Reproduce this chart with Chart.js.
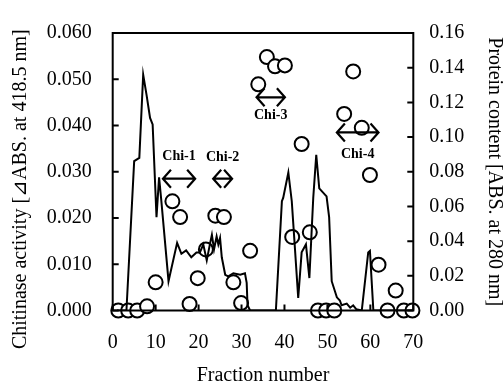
<!DOCTYPE html>
<html>
<head>
<meta charset="utf-8">
<script src="https://cdn.jsdelivr.net/npm/chart.js@4"></script>
<style>
  html, body { margin: 0; padding: 0; background: #fff; }
</style>
</head>
<body>
<canvas id="chart" width="504" height="385"></canvas>
<script>
// ── data ──
// circles: chitinase activity (left axis)
const circleFraction = [1.3, 3.6, 5.7, 8.0, 10.0, 13.9, 15.7, 17.9, 19.8, 21.7, 23.9, 25.9, 28.1, 29.9, 32.0, 33.9, 35.9,
                        37.8, 40.1, 41.8, 44.0, 45.9, 47.8, 49.7, 51.6, 53.9, 56.0, 58.0, 59.9, 61.9, 64.0, 65.9, 67.8, 69.8];
const chitinase      = [0, 0, 0, 0.0009, 0.0061, 0.0236, 0.0202, 0.0014, 0.0070, 0.0132, 0.0205, 0.0202, 0.0061, 0.0016, 0.0129, 0.0489, 0.0548,
                        0.0528, 0.0530, 0.0159, 0.0360, 0.0169, 0, 0, 0, 0.0425, 0.0517, 0.0395, 0.0293, 0.0099, 0, 0.0043, 0, 0];

// solid line: protein content (right axis)
const lineFraction = [1, 3.2, 5.0, 6.2, 7.1, 7.9, 8.7, 9.3, 10.2, 10.8, 11.3, 13.0, 15.0, 16.0, 17.1, 18.3, 19.5, 20.3, 21.1, 21.9,
                      22.7, 23.1, 23.6, 24.2, 24.6, 25.0, 25.4, 26.2, 26.9, 28.1, 29.7, 30.8, 31.2, 31.4, 32.0, 38.0, 39.4, 39.7, 40.9, 41.7,
                      42.3, 43.2, 44.0, 45.0, 45.8, 46.7, 47.4, 48.1, 49.8, 50.4, 51.0, 52.2, 52.9, 53.3, 54.5, 55.3, 56.0, 56.7, 58.0, 59.5,
                      59.9, 60.7, 70];
const protein      = [0, 0, 0.0861, 0.0880, 0.1359, 0.1240, 0.1110, 0.1073, 0.0538, 0.0768, 0.0639, 0.0169, 0.0390, 0.0327, 0.0346, 0.0307, 0.0335, 0.0335, 0.0381, 0.0289,
                      0.0390, 0.0436, 0.0353, 0.0427, 0.0381, 0.0418, 0.0307, 0.0206, 0.0197, 0.0215, 0.0206, 0.0215, 0.0159, 0.0030, 0, 0, 0.0630, 0.0649, 0.0796, 0.0630,
                      0.0409, 0.0072, 0.0335, 0.0381, 0.0187, 0.0649, 0.0898, 0.0704, 0.0658, 0.0538, 0.0169, 0.0076, 0.0058, 0.0030, 0.0040, 0.0016, 0.0030, 0.0008, 0, 0.0335,
                      0.0344, 0, 0];

// Chi-n pooled ranges (fraction from/to, left-axis level of arrow and label)
const chiNames     = ['Chi-1', 'Chi-2', 'Chi-3', 'Chi-4'];
const chiFrom      = [11.7, 23.4, 33.5, 52.2];
const chiTo        = [19.2, 27.8, 40.1, 61.9];
const chiLevel     = [0.0285, 0.0285, 0.0461, 0.0385];
const chiTextLevel = [0.0334, 0.0332, 0.0422, 0.0337];

// tick labels
const xTickLabels  = ['0', '10', '20', '30', '40', '50', '60', '70'];
const yTickLabels  = ['0.000', '0.010', '0.020', '0.030', '0.040', '0.050', '0.060'];
const y1TickLabels = ['0.00', '0.02', '0.04', '0.06', '0.08', '0.10', '0.12', '0.14', '0.16'];

const SERIF = "'Liberation Serif', 'Times New Roman', serif";
const tickFont  = { family: SERIF, size: 20 };
const titleFont = { family: SERIF, size: 20, lineHeight: 1 };

// frame box + inward tick marks
const frame = {
  id: 'frame',
  afterDatasetsDraw(chart) {
    const { ctx, chartArea: a, scales } = chart;
    ctx.save();
    ctx.strokeStyle = '#000';
    ctx.lineWidth = 2;
    ctx.strokeRect(a.left, a.top, a.right - a.left, a.bottom - a.top);
    ctx.beginPath();
    scales.x.ticks.forEach((t, i) => {
      const px = scales.x.getPixelForTick(i);
      ctx.moveTo(px, a.bottom); ctx.lineTo(px, a.bottom - 6);
    });
    scales.y.ticks.forEach((t, i) => {
      const py = scales.y.getPixelForTick(i);
      ctx.moveTo(a.left, py); ctx.lineTo(a.left + 6, py);
    });
    scales.y1.ticks.forEach((t, i) => {
      const py = scales.y1.getPixelForTick(i);
      ctx.moveTo(a.right, py); ctx.lineTo(a.right - 6, py);
    });
    ctx.stroke();
    ctx.restore();
  },
};

// double-headed arrows with Chi labels
const chiMarks = {
  id: 'chiMarks',
  afterDatasetsDraw(chart) {
    const { ctx, scales: { x, y } } = chart;
    ctx.save();
    ctx.strokeStyle = '#000';
    ctx.fillStyle = '#000';
    ctx.lineWidth = 2.2;
    ctx.font = "bold 14px " + SERIF;
    ctx.textAlign = 'center';
    ctx.textBaseline = 'middle';
    chiNames.forEach((name, i) => {
      const x0 = x.getPixelForValue(chiFrom[i]);
      const x1 = x.getPixelForValue(chiTo[i]);
      const yy = y.getPixelForValue(chiLevel[i]);
      ctx.beginPath();
      ctx.moveTo(x0, yy); ctx.lineTo(x1, yy);
      ctx.moveTo(x0 + 8, yy - 9); ctx.lineTo(x0, yy); ctx.lineTo(x0 + 8, yy + 9);
      ctx.moveTo(x1 - 8, yy - 9); ctx.lineTo(x1, yy); ctx.lineTo(x1 - 8, yy + 9);
      ctx.stroke();
      ctx.fillText(name, (x0 + x1) / 2, y.getPixelForValue(chiTextLevel[i]));
    });
    ctx.restore();
  },
};

new Chart(document.getElementById('chart'), {
  type: 'line',
  data: {
    datasets: [
      {
        label: 'Protein content',
        data: lineFraction.map((f, i) => ({ x: f, y: protein[i] })),
        yAxisID: 'y1',
        borderColor: '#000',
        borderWidth: 2,
        pointRadius: 0,
        tension: 0,
        fill: false,
        order: 1,
      },
      {
        label: 'Chitinase activity',
        data: circleFraction.map((f, i) => ({ x: f, y: chitinase[i] })),
        yAxisID: 'y',
        showLine: false,
        pointRadius: 7,
        pointBorderWidth: 2,
        pointBorderColor: '#000',
        pointBackgroundColor: '#fff',
        clip: false,
        order: 2,
      },
    ],
  },
  options: {
    responsive: false,
    animation: false,
    layout: { padding: { top: 21.5, left: 0, right: 0, bottom: 0 } },
    plugins: { legend: { display: false }, tooltip: { enabled: false } },
    scales: {
      x: {
        type: 'linear',
        min: 0, max: 70,
        grid: { display: false, drawTicks: false },
        border: { display: false },
        ticks: { stepSize: 10, color: '#000', font: tickFont, padding: 20, maxRotation: 0,
                 callback: (v, i) => xTickLabels[i] },
        title: { display: true, text: 'Fraction number', color: '#000', font: titleFont,
                 padding: { top: 0, bottom: -1 } },
        afterFit: s => { s.height = 74.5; },
      },
      y: {
        position: 'left',
        min: 0, max: 0.06,
        grid: { display: false, drawTicks: false },
        border: { display: false },
        ticks: { stepSize: 0.01, color: '#000', font: tickFont, padding: 21,
                 callback: (v, i) => yTickLabels[i] },
        title: { display: true, text: 'Chitinase activity [\u22BFABS. at 418.5 nm]\u00a0\u00a0\u00a0\u00a0\u00a0\u00a0\u00a0',
                 color: '#000', font: titleFont, padding: { top: 10.5, bottom: 0 } },
        afterFit: s => { s.width = 112.7; },
      },
      y1: {
        position: 'right',
        min: 0, max: 0.16,
        grid: { display: false, drawTicks: false },
        border: { display: false },
        ticks: { stepSize: 0.02, color: '#000', font: tickFont, padding: 16,
                 callback: (v, i) => y1TickLabels[i] },
        title: { display: true, text: 'Protein content [ABS. at 280 nm]', color: '#000', font: titleFont,
                 padding: { top: 0, bottom: 0 } },
        afterFit: s => { s.width = 90.7; },
      },
    },
  },
  plugins: [frame, chiMarks],
});
</script>
</body>
</html>
